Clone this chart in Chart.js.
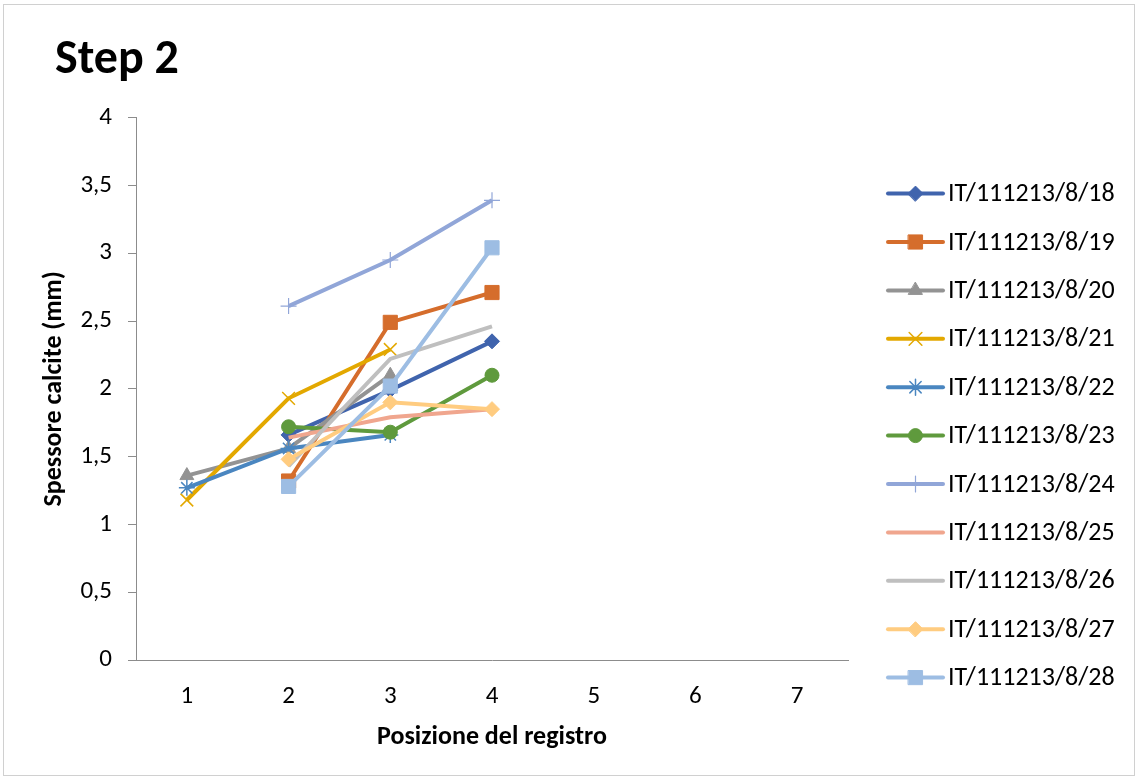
<!DOCTYPE html>
<html>
<head>
<meta charset="utf-8">
<script src="https://cdn.jsdelivr.net/npm/chart.js@4.4.1/dist/chart.umd.min.js"></script>
<style>
  body { margin: 0; background: #fff; }
  canvas { display: block; }
</style>
</head>
<body>
<canvas id="chart" width="1137" height="778"></canvas>
<script>
const positions = ["1", "2", "3", "4", "5", "6", "7"];
const yTicks = [0, 0.5, 1, 1.5, 2, 2.5, 3, 3.5, 4];

const seriesNames = [
  "IT/111213/8/18", "IT/111213/8/19", "IT/111213/8/20", "IT/111213/8/21",
  "IT/111213/8/22", "IT/111213/8/23", "IT/111213/8/24", "IT/111213/8/25",
  "IT/111213/8/26", "IT/111213/8/27", "IT/111213/8/28",
];

const s18 = [null, 1.66, 1.99, 2.35, null, null, null];
const s19 = [null, 1.32, 2.49, 2.71, null, null, null];
const s20 = [1.36, 1.56, 2.10, null, null, null, null];
const s21 = [1.18, 1.93, 2.29, null, null, null, null];
const s22 = [1.27, 1.56, 1.66, null, null, null, null];
const s23 = [null, 1.72, 1.68, 2.10, null, null, null];
const s24 = [null, 2.61, 2.95, 3.39, null, null, null];
const s25 = [null, 1.64, 1.79, 1.85, null, null, null];
const s26 = [null, 1.43, 2.22, 2.46, null, null, null];
const s27 = [null, 1.48, 1.90, 1.85, null, null, null];
const s28 = [null, 1.28, 2.02, 3.04, null, null, null];
const seriesValues = [s18, s19, s20, s21, s22, s23, s24, s25, s26, s27, s28];

const colors = [
  "#4064ad", "#d56d2c", "#939393", "#e3a800", "#4a86c0", "#5f9a3d",
  "#91a6d8", "#f0a68e", "#bfbfbf", "#ffcc80", "#9dbde3",
];
const markers = [
  { style: "rectRot", r: 7.5, bw: 1 },
  { style: "rect", r: 10, bw: 1 },
  { style: "triangle", r: 8, bw: 1 },
  { style: "crossRot", r: 9, bw: 1.5 },
  { style: "star", r: 8, bw: 1.5 },
  { style: "circle", r: 7, bw: 1 },
  { style: "cross", r: 8, bw: 1.2 },
  { style: "circle", r: 0, bw: 0 },
  { style: "circle", r: 0, bw: 0 },
  { style: "rectRot", r: 7.5, bw: 1 },
  { style: "rect", r: 10, bw: 1 },
];

const FONT = "Carlito, Lato, sans-serif";
Chart.defaults.font.family = FONT;
Chart.defaults.color = "#000";

// where the plot sits in the picture
const PAD_LEFT = 20, PAD_BOTTOM = 10;
const AREA_LEFT = 136, AREA_BOTTOM = 660;

const datasets = seriesNames.map((name, i) => ({
  label: name,
  data: seriesValues[i],
  borderColor: colors[i],
  backgroundColor: colors[i],
  borderWidth: 4,
  pointStyle: markers[i].style,
  pointRadius: markers[i].r,
  pointHoverRadius: markers[i].r,
  pointBorderWidth: markers[i].bw,
  pointBorderColor: colors[i],
  pointBackgroundColor: colors[i],
  tension: 0,
  order: seriesNames.length - i,
}));

// frame round the whole chart, title nudged right like Excel
const framePlugin = {
  id: "frame",
  afterLayout(chart) {
    if (chart.titleBlock) {
      chart.titleBlock.left += 35;
      chart.titleBlock.right += 35;
    }
  },
  beforeDraw(chart) {
    const ctx = chart.ctx;
    ctx.save();
    ctx.fillStyle = "#fff";
    ctx.fillRect(0, 0, chart.width, chart.height);
    ctx.strokeStyle = "#d0d0d0";
    ctx.lineWidth = 1;
    ctx.strokeRect(3.5, 4.5, chart.width - 6, chart.height - 7);
    ctx.restore();
  },
};

// legend at the right, Excel style: line with marker
const sideLegend = {
  id: "sideLegend",
  afterDraw(chart) {
    const ctx = chart.ctx;
    const area = chart.chartArea;
    const x0 = area.right + 40;
    const y0 = area.top + 76;
    const step = 48.4;
    ctx.save();
    chart.data.datasets.forEach((ds, i) => {
      const y = y0 + i * step;
      ctx.strokeStyle = ds.borderColor;
      ctx.lineWidth = ds.borderWidth;
      ctx.lineCap = "round";
      ctx.beginPath();
      ctx.moveTo(x0, y);
      ctx.lineTo(x0 + 55, y);
      ctx.stroke();
      if (ds.pointRadius > 0) {
        ctx.fillStyle = ds.pointBackgroundColor;
        ctx.strokeStyle = ds.pointBorderColor;
        ctx.lineWidth = ds.pointBorderWidth;
        Chart.helpers.drawPoint(ctx, {
          pointStyle: ds.pointStyle,
          radius: ds.pointRadius,
          borderWidth: ds.pointBorderWidth,
          rotation: 0,
        }, x0 + 27.5, y);
      }
      ctx.fillStyle = "#000";
      ctx.font = "26px " + FONT;
      ctx.textBaseline = "middle";
      ctx.textAlign = "left";
      ctx.fillText(ds.label, x0 + 60, y + 1);
    });
    ctx.restore();
  },
};

new Chart(document.getElementById("chart"), {
  type: "line",
  data: { labels: positions, datasets },
  options: {
    responsive: false,
    animation: false,
    layout: { padding: { left: PAD_LEFT, right: 289, top: 26, bottom: PAD_BOTTOM } },
    plugins: {
      legend: { display: false },
      tooltip: { enabled: false },
      title: {
        display: true,
        text: "Step 2",
        align: "start",
        color: "#000",
        font: { size: 48, weight: "bold", lineHeight: 1.2 },
        padding: { top: 6, bottom: 28 },
      },
    },
    scales: {
      x: {
        type: "category",
        offset: true,
        afterFit(scale) {
          scale.height = 778 - PAD_BOTTOM - AREA_BOTTOM;
        },
        grid: { display: false, drawTicks: false },
        border: { display: true, color: "#8c8c8c", width: 1 },
        ticks: { font: { size: 25 }, padding: 22, color: "#000" },
        title: {
          display: true,
          text: "Posizione del registro",
          font: { size: 26, weight: "bold", lineHeight: 1.2 },
          color: "#000",
          padding: { top: 0, bottom: 15 },
        },
      },
      y: {
        min: 0,
        max: 4,
        afterFit(scale) {
          scale.width = AREA_LEFT - PAD_LEFT;
        },
        afterBuildTicks(axis) {
          axis.ticks = yTicks.map((v) => ({ value: v }));
        },
        grid: {
          drawOnChartArea: false,
          drawTicks: true,
          tickLength: 8,
          color: "#8c8c8c",
        },
        border: { display: true, color: "#8c8c8c", width: 1 },
        ticks: {
          font: { size: 25 },
          padding: 16,
          color: "#000",
          callback: (v) => String(v).replace(".", ","),
        },
        title: {
          display: true,
          text: "Spessore calcite (mm)",
          font: { size: 26, weight: "bold", lineHeight: 1.2 },
          color: "#000",
          padding: { top: 19, bottom: 0 },
        },
      },
    },
  },
  plugins: [framePlugin, sideLegend],
});
</script>
</body>
</html>
